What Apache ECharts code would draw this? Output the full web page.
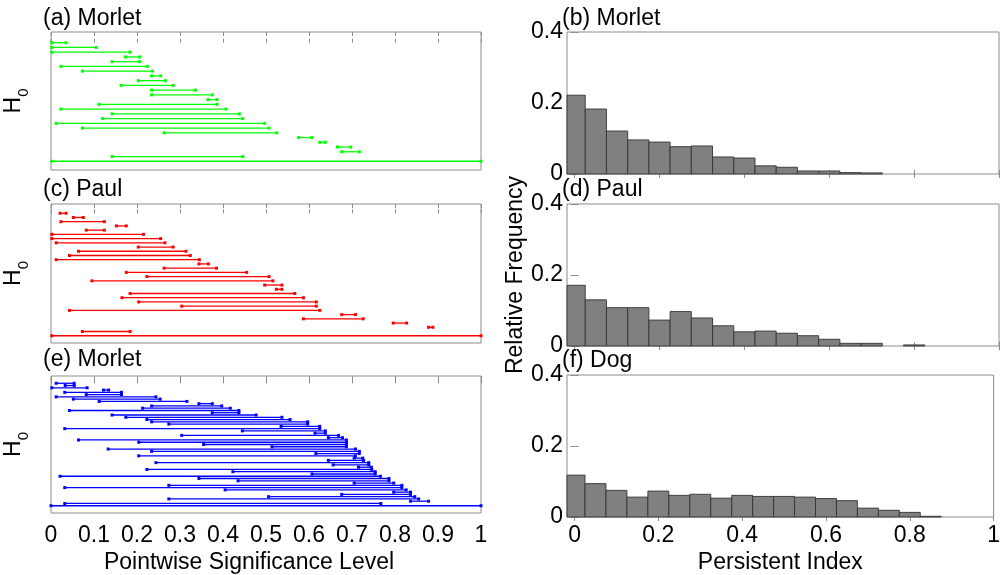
<!DOCTYPE html>
<html><head><meta charset="utf-8">
<script src="https://cdn.jsdelivr.net/npm/echarts@6/dist/echarts.min.js"></script>
<style>html,body{margin:0;padding:0;background:#fff}#c{width:1003px;height:575px}</style>
</head><body><div id="c"></div>
<script>
// ---------- data ----------
const morletABirth = [0.002,0.002,0.002,0.173,0.142,0.023,0.073,0.234,0.203,0.163,0.234,0.234,0.365,0.112,0.023,0.142,0.120,0.012,0.073,0.263,0.576,0.625,0.666,0.676,0.142,0.002];
const morletADeath = [0.035,0.105,0.184,0.206,0.206,0.224,0.236,0.255,0.266,0.284,0.336,0.375,0.386,0.386,0.407,0.438,0.446,0.497,0.507,0.525,0.607,0.638,0.697,0.717,0.446,1];
const paulCBirth = [0.021,0.052,0.023,0.152,0.082,0.002,0.002,0.012,0.203,0.064,0.043,0.012,0.344,0.263,0.175,0.223,0.095,0.497,0.524,0.184,0.165,0.204,0.304,0.043,0.676,0.587,0.796,0.878,0.073,0.002];
const paulCDeath = [0.035,0.075,0.124,0.175,0.124,0.215,0.255,0.265,0.284,0.314,0.324,0.345,0.366,0.385,0.455,0.507,0.516,0.537,0.537,0.567,0.587,0.617,0.617,0.625,0.708,0.726,0.827,0.888,0.184,1];
const morletEBirth = [0.012,0.033,0.002,0.122,0.032,0.082,0.012,0.052,0.112,0.344,0.234,0.213,0.043,0.375,0.142,0.174,0.223,0.234,0.274,0.535,0.032,0.445,0.614,0.304,0.645,0.064,0.204,0.355,0.514,0.133,0.234,0.616,0.204,0.705,0.645,0.244,0.656,0.715,0.223,0.423,0.607,0.021,0.344,0.435,0.705,0.274,0.032,0.405,0.797,0.676,0.506,0.274,0.836,0.032,0.000];
const morletEDeath = [0.054,0.054,0.084,0.134,0.164,0.164,0.244,0.254,0.316,0.375,0.397,0.417,0.437,0.437,0.477,0.537,0.556,0.597,0.597,0.625,0.625,0.638,0.638,0.669,0.678,0.687,0.687,0.687,0.687,0.708,0.717,0.717,0.708,0.725,0.727,0.739,0.739,0.745,0.746,0.754,0.754,0.766,0.786,0.786,0.797,0.816,0.816,0.826,0.836,0.836,0.846,0.855,0.878,0.767,1];

const binWidth = 0.05;
const binCenters = [0,0.05,0.10,0.15,0.20,0.25,0.30,0.35,0.40,0.45,0.50,0.55,0.60,0.65,0.70,0.75,0.80,0.85];
const morletHist = [0.222,0.183,0.121,0.096,0.090,0.077,0.079,0.048,0.045,0.023,0.019,0.0085,0.0085,0.004,0.003];
const paulHist = [0.171,0.130,0.108,0.108,0.073,0.097,0.079,0.057,0.040,0.042,0.036,0.029,0.019,0.0075,0.0075,0,0.003];
const dogHist = [0.118,0.094,0.075,0.056,0.073,0.061,0.064,0.053,0.061,0.058,0.058,0.056,0.052,0.046,0.025,0.019,0.013,0.002];

const leftTicks = [0,0.1,0.2,0.3,0.4,0.5,0.6,0.7,0.8,0.9,1];
const rightXTicks = [0,0.2,0.4,0.6,0.8,1];
const rightYTicks = [0,0.2,0.4];

const titlesLeft = ['(a) Morlet','(c) Paul','(e) Morlet'];
const titlesRight = ['(b) Morlet','(d) Paul','(f) Dog'];

// ---------- layout / style ----------
const FONT = "'Liberation Sans', Arial, sans-serif";
const FS = 23;
const frame = '#8c8c8c';
const leftBoxes = [{top:32,height:138,min:-2.26,max:26.84},{top:204,height:139,min:-2.19,max:30.72},{top:376,height:137,min:-3.2,max:57.2}];
const rightBoxes = [{top:32,height:142},{top:204,height:142},{top:375,height:142}];
const titleTopsLeft = [7,178,348];
const titleTopsRight = [7,178,349];

const grids = [], xAxes = [], yAxes = [], series = [], titles = [];
const fmt = v => String(+(+v).toFixed(2));
const tickStyle = {show:true, inside:true, length:4, lineStyle:{color:frame, width:1}};
const labelStyle = {color:'#000', fontFamily:FONT, fontSize:FS};

leftBoxes.forEach((b,i)=>{
  grids.push({left:51, width:430, top:b.top, height:b.height, show:true, borderColor:frame, borderWidth:1, backgroundColor:'#fff'});
});
rightBoxes.forEach((b,i)=>{
  grids.push({left:567, width:432, top:b.top, height:b.height, show:true, borderColor:frame, borderWidth:1, backgroundColor:'#fff'});
});

// left x axes
leftBoxes.forEach((b,i)=>{
  const last = i===2;
  xAxes.push({gridIndex:i, type:'value', position:'bottom', min:0, max:1, interval:0.1,
    axisLine:{show:false}, splitLine:{show:false}, axisTick:tickStyle,
    axisLabel:Object.assign({show:last, margin:11, formatter:fmt}, labelStyle),
    name:last?'Pointwise Significance Level':'', nameLocation:'middle', nameGap:38,
    nameTextStyle:Object.assign({padding:[0,34,0,0]}, labelStyle)});
  xAxes.push({gridIndex:i, type:'value', position:'top', min:0, max:1, interval:0.1,
    axisLine:{show:false}, splitLine:{show:false}, axisTick:tickStyle, axisLabel:{show:false}});
});
// right x axes
rightBoxes.forEach((b,j)=>{
  const last = j===2;
  xAxes.push({gridIndex:3+j, type:'value', position:'bottom', min:-0.018, max:1,
    axisLine:{show:false}, splitLine:{show:false},
    axisTick:Object.assign({customValues:rightXTicks}, tickStyle),
    axisLabel:Object.assign({show:last, margin:7, customValues:rightXTicks, formatter:fmt}, labelStyle),
    name:last?'Persistent Index':'', nameLocation:'middle', nameGap:34,
    nameTextStyle:labelStyle});
  xAxes.push({gridIndex:3+j, type:'value', position:'top', min:-0.018, max:1,
    axisLine:{show:false}, splitLine:{show:false},
    axisTick:Object.assign({customValues:rightXTicks}, tickStyle), axisLabel:{show:false}});
});
// left y axes
leftBoxes.forEach((b,i)=>{
  yAxes.push({gridIndex:i, type:'value', inverse:true, min:b.min, max:b.max,
    axisLine:{show:false}, axisTick:{show:false}, axisLabel:{show:false}, splitLine:{show:false},
    name:'{h|H}{s|0}', nameLocation:'middle', nameRotate:90, nameGap:20,
    nameTextStyle:{color:'#000', fontFamily:FONT, fontSize:FS,
      rich:{h:{fontFamily:FONT, fontSize:FS, color:'#000', padding:[0,0,6,0]},
            s:{fontFamily:FONT, fontSize:15, color:'#000', verticalAlign:'bottom'}}}});
});
// right y axes
rightBoxes.forEach((b,j)=>{
  yAxes.push({gridIndex:3+j, type:'value', position:'left', min:0, max:0.4, interval:0.2,
    axisLine:{show:false}, splitLine:{show:false}, axisTick:tickStyle,
    axisLabel:Object.assign({margin:4, formatter:fmt}, labelStyle),
    name:j===1?'Relative Frequency':'', nameLocation:'middle', nameRotate:90, nameGap:40,
    nameTextStyle:labelStyle});
  yAxes.push({gridIndex:3+j, type:'value', position:'right', min:0, max:0.4, interval:0.2,
    axisLine:{show:false}, splitLine:{show:false}, axisTick:tickStyle, axisLabel:{show:false}});
});

function barcodeRender(color){
  return function(params, api){
    const s = api.coord([api.value(0), api.value(2)]);
    const e = api.coord([api.value(1), api.value(2)]);
    return {type:'group', children:[
      {type:'line', shape:{x1:s[0], y1:s[1], x2:e[0], y2:e[1]}, style:{stroke:color, lineWidth:1.3}},
      {type:'rect', shape:{x:s[0]-1.5, y:s[1]-1.5, width:3, height:3}, style:{fill:color}},
      {type:'rect', shape:{x:e[0]-1.5, y:e[1]-1.5, width:3, height:3}, style:{fill:color}}
    ]};
  };
}
function histRender(params, api){
  const x = api.value(0), h = api.value(1);
  if (!(h > 0)) return null;
  const p0 = api.coord([x - binWidth/2, h]);
  const p1 = api.coord([x + binWidth/2, 0]);
  const cs = params.coordSys;
  const r = echarts.graphic.clipRectByRect(
    {x:p0[0], y:p0[1], width:p1[0]-p0[0], height:p1[1]-p0[1]},
    {x:cs.x, y:cs.y, width:cs.width, height:cs.height});
  if (!r) return null;
  return {type:'rect', shape:r, style:{fill:'#808080', stroke:'#333', lineWidth:0.9}};
}

const barcodeSets = [[morletABirth,morletADeath,'#00ff00'],[paulCBirth,paulCDeath,'#ff0000'],[morletEBirth,morletEDeath,'#0000ff']];
barcodeSets.forEach(([b,d,c],i)=>{
  series.push({type:'custom', xAxisIndex:i*2, yAxisIndex:i, renderItem:barcodeRender(c),
    encode:{x:[0,1], y:2}, silent:true, animation:false,
    data:b.map((v,k)=>[v, d[k], k])});
});
[morletHist, paulHist, dogHist].forEach((h,j)=>{
  series.push({type:'custom', xAxisIndex:6+j*2, yAxisIndex:3+j*2, renderItem:histRender,
    encode:{x:0, y:1}, silent:true, animation:false,
    data:h.map((v,k)=>[binCenters[k], v])});
});

titlesLeft.forEach((t,i)=>titles.push({text:t, left:43, top:titleTopsLeft[i], padding:0,
  textStyle:{fontFamily:FONT, fontSize:FS, fontWeight:'normal', color:'#000'}}));
titlesRight.forEach((t,j)=>titles.push({text:t, left:562, top:titleTopsRight[j], padding:0,
  textStyle:{fontFamily:FONT, fontSize:FS, fontWeight:'normal', color:'#000'}}));

const chart = echarts.init(document.getElementById('c'), null, {renderer:'canvas'});
chart.setOption({backgroundColor:'#fff', animation:false, title:titles, grid:grids, xAxis:xAxes, yAxis:yAxes, series:series});
</script></body></html>
